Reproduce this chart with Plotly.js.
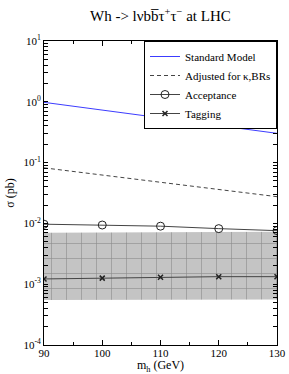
<!DOCTYPE html>
<html><head><meta charset="utf-8">
<script src="https://cdn.plot.ly/plotly-3.0.1.min.js"></script>
<style>html,body{margin:0;padding:0;background:#fff}#c{width:289px;height:374px}</style>
</head><body><div id="c"></div>
<script>
const masses = [90, 100, 110, 120, 130];
const smLineX = [90, 130];
const smLine = [0.98, 0.303];
const adjustedLine = [0.082, 0.0275];
const acceptance = [0.0097, 0.0094, 0.0090, 0.0082, 0.0076];
const tagging = [0.00122, 0.00126, 0.00130, 0.00133, 0.00133];
const bandLow = [0.00055, 0.00055, 0.00055, 0.00055, 0.00056];
const bandHigh = [0.0070, 0.0070, 0.0071, 0.0072, 0.0073];
const yTickVals = [1e-4, 1e-3, 1e-2, 1e-1, 1, 10];
const yTickText = ['10<sup>-4</sup>', '10<sup>-3</sup>', '10<sup>-2</sup>', '10<sup>-1</sup>', '10<sup>0</sup>', '10<sup>1</sup>'];
const titleText = "Wh -> lνbb\u0305τ<sup>+</sup>τ<sup>−</sup> at LHC";

// unlabelled tick positions on the log axis (2..9 within each decade)
const minorY = [];
for (let e = -4; e < 1; e++) for (let m = 2; m <= 9; m++) minorY.push(m * Math.pow(10, e));
const allYVals = yTickVals.concat(minorY);
const allYText = yTickText.concat(minorY.map(() => ''));

const serif = "Liberation Serif, Times New Roman, serif";
const traces = [
  {x: masses, y: bandLow, mode: 'lines', line: {width: 0, color: 'rgba(0,0,0,0)'}, showlegend: false, hoverinfo: 'skip'},
  {x: masses, y: bandHigh, mode: 'lines', line: {width: 0, color: 'rgba(0,0,0,0)'}, fill: 'tonexty',
   fillcolor: '#c0c0c0', fillpattern: {shape: '+', fgcolor: '#8c8c8c', bgcolor: '#c4c4c4', size: 15, solidity: 0.08},
   showlegend: false, hoverinfo: 'skip'},
  {x: smLineX, y: smLine, mode: 'lines', name: 'Standard Model', line: {color: '#3c3cff', width: 1}},
  {x: smLineX, y: adjustedLine, mode: 'lines', name: 'Adjusted for κ,BRs', line: {color: '#444', width: 1, dash: '4px,3px'}},
  {x: masses, y: acceptance, mode: 'lines+markers', name: 'Acceptance', line: {color: '#444', width: 1},
   marker: {symbol: 'circle-open', size: 8, color: '#222', line: {width: 1}}},
  {x: masses, y: tagging, mode: 'lines+markers', name: 'Tagging', line: {color: '#444', width: 1},
   marker: {symbol: 'x-thin-open', size: 5, color: '#222', line: {width: 1.5, color: '#222'}}}
];

const layout = {
  width: 289, height: 374,
  margin: {l: 43.5, r: 12, t: 41, b: 29},
  paper_bgcolor: '#fff', plot_bgcolor: '#fff',
  font: {family: serif, size: 11, color: '#000'},
  title: {text: titleText, font: {family: serif, size: 15, color: '#000'}, x: 0.555, xanchor: 'center', y: 0.958, yanchor: 'middle'},
  xaxis: {
    range: [90, 130], dtick: 10, tick0: 90, ticks: 'inside', ticklen: 5, tickcolor: '#000',
    showline: true, linecolor: '#000', linewidth: 1, mirror: 'ticks', showgrid: false, zeroline: false,
    tickfont: {family: serif, size: 11}, ticklabelstandoff: -2,
    minor: {dtick: 5, ticks: 'inside', ticklen: 3, tickcolor: '#000', showgrid: false},
    title: {text: 'm<sub>h</sub> (GeV)', font: {family: serif, size: 12}, standoff: 0}
  },
  yaxis: {
    type: 'log', range: [-4, 1], tickmode: 'array', tickvals: allYVals, ticktext: allYText,
    ticks: 'inside', ticklen: 4, tickcolor: '#000',
    showline: true, linecolor: '#000', linewidth: 1, mirror: 'ticks', showgrid: false, zeroline: false,
    tickfont: {family: serif, size: 11},
    title: {text: 'σ (pb)', font: {family: serif, size: 12}, standoff: 6}
  },
  legend: {
    x: 1.0, xanchor: 'right', y: 1.0, yanchor: 'top', traceorder: 'normal',
    bgcolor: '#fff', bordercolor: '#000', borderwidth: 1,
    font: {family: serif, size: 11}, itemwidth: 30, tracegroupgap: 0
  },
  showlegend: true
};
Plotly.newPlot('c', traces, layout, {staticPlot: true, displayModeBar: false});
</script></body></html>
